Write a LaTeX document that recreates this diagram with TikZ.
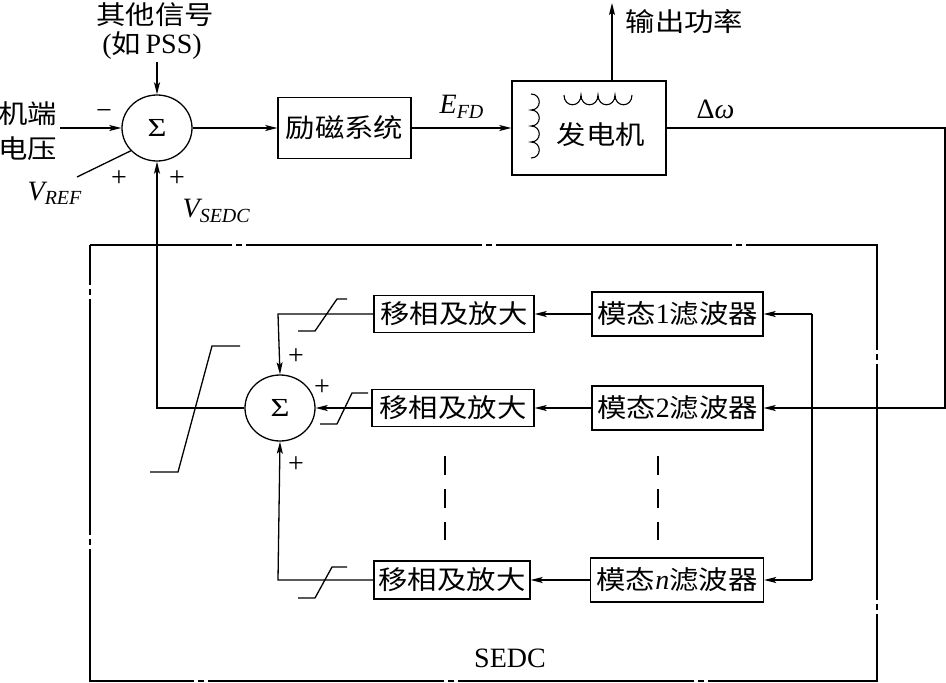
\documentclass[tikz,border=0pt]{standalone}
\usepackage{graphicx}
\usepackage{fontspec}
\setmainfont{Liberation Serif}
\newfontfamily\cjk[FakeStretch=1.13]{Noto Sans CJK SC}
\usetikzlibrary{arrows.meta,shapes.geometric}
\newcommand\zh{\cjk\fontsize{26}{30}\selectfont}
\newcommand\lat{\rmfamily\fontsize{28}{30}\selectfont}
\newcommand\sgnfont{\rmfamily\fontsize{28}{28}\selectfont}
\newcommand\sigfont{\rmfamily\fontsize{26}{26}\selectfont}
\newcommand\sigmark{\scalebox{1.25}[1]{Σ}}
\newcommand\subsc[2]{\raisebox{#1}{\fontsize{20}{20}\selectfont #2}}
\begin{document}
\begin{tikzpicture}[x=1pt,y=-1pt,
  line width=1.3pt,
  >={Stealth[length=12pt,width=6pt,inset=2.5pt]},
  blk/.style={draw,line width=1.3pt,inner sep=0pt,font=\zh},
  sumnode/.style={draw,ellipse,line width=1.3pt,minimum width=70pt,minimum height=66pt,inner sep=0pt,font=\sigfont},
  lbl/.style={inner sep=0pt,font=\lat},
  zlbl/.style={inner sep=0pt,font=\zh},
  sgn/.style={inner sep=0pt,font=\sgnfont},
  limiter/.style={line width=1.3pt},
  sedcbox/.style={line width=1.3pt,dash pattern=on 236pt off 4pt on 6pt off 4pt,dash phase=94pt},
  guide/.style={line width=1.3pt,dash pattern=on 19pt off 14pt},
]
\useasboundingbox (0,0) rectangle (946,683);

% ---------- nodes ----------
\node[sumnode] (s1) at (157,128) {\sigmark};
\node[blk,minimum width=133pt,minimum height=61pt] (exc) at (344.5,128) {励磁系统};
\node[blk,minimum width=154pt,minimum height=94pt] (gen) at (589,128) {};
\node[zlbl] (gent) at (601,135) {发电机};

\node[blk,minimum width=160pt,minimum height=37pt] (p1) at (454,314) {移相及放大};
\node[blk,minimum width=162pt,minimum height=37pt] (p2) at (453,408) {移相及放大};
\node[blk,minimum width=156pt,minimum height=38pt] (p3) at (452,580) {移相及放大};
\node[blk,minimum width=171pt,minimum height=44pt] (f1) at (677.5,314) {模态{\lat 1}滤波器};
\node[blk,minimum width=171pt,minimum height=44pt] (f2) at (677.5,408) {模态{\lat 2}滤波器};
\node[blk,minimum width=173pt,minimum height=44pt] (f3) at (677,580) {模态{\lat\itshape n}滤波器};
\node[sumnode] (s2) at (280,408) {\sigmark};

% coils inside generator
\draw[line width=1.1pt] (531,94)
  .. controls (542,94) and (542,110) .. (531,110)
  .. controls (542,110) and (542,126) .. (531,126)
  .. controls (542,126) and (542,142) .. (531,142)
  .. controls (542,142) and (542,158) .. (531,158);
\draw[line width=1.1pt] (564,95)
  .. controls (564,108) and (581,108) .. (581,95)
  .. controls (581,108) and (598,108) .. (598,95)
  .. controls (598,108) and (615,108) .. (615,95)
  .. controls (615,108) and (632,108) .. (632,95);

% labels top
\node[zlbl] (other) at (155,15) {其他信号};
\node[lbl] (pss) at (152,46) {({\zh 如}\,PSS)};
\node[zlbl] (vt1) at (28,114) {机端};
\node[zlbl] (vt2) at (28,149) {电压};
\node[sgn] (minus) at (104,114) {−};
\node[lbl,anchor=base west] (vref) at (27,200) {\itshape V\subsc{-4pt}{REF}};
\node[sgn] (p1s) at (119,179) {+};
\node[sgn] (p2s) at (177,179) {+};
\node[lbl,anchor=base west] (vsedc) at (182,217) {\itshape V\subsc{-5pt}{SEDC}};
\node[lbl,anchor=base west] (efd) at (439,113) {\itshape E\subsc{-5pt}{FD}};
\node[lbl,anchor=base west] (dw) at (696,118) {Δ\textit{ω}};
\node[zlbl,anchor=west] (poutt) at (625,22) {输出功率};

% coordinates
\coordinate (pssin) at (157,62);
\coordinate (vtin) at (60,128);
\coordinate (vrefin) at (77,177);
\coordinate (pout) at (612,3);
\coordinate (fb1) at (945,128);
\coordinate (fb2) at (945,408);
\coordinate (c1) at (278,314);
\coordinate (c3) at (278,580);
\coordinate (r1) at (812,314);
\coordinate (r3) at (812,580);
\coordinate (j1) at (157,408);

% top connectors
\draw[->] (pssin) -- (s1.north);
\draw[->] (vtin) -- (s1.west);
\draw (vrefin) -- (s1.221);
\draw[->] (s1.east) -- (exc.west);
\draw[->] (exc.east) -- (gen.west);
\draw[->] (gen.north -| pout) -- (pout);
\draw[->] (gen.east) -- (fb1) -- (fb2) -- (f2.east);

% lower connectors
\draw[->] (p1.west) -- (c1) -- (s2.north);
\draw[->] (p2.west) -- (s2.east);
\draw[->] (p3.west) -- (c3) -- (s2.south);
\draw[->] (f1.west) -- (p1.east);
\draw[->] (f2.west) -- (p2.east);
\draw[->] (f3.west) -- (p3.east);
\draw[->] (r1) -- (f1.east);
\draw[->] (r3) -- (f3.east);
\draw (r1) -- (r3);
\draw[->] (s2.west) -- (j1) -- (s1.south);

% plus signs
\node[sgn] (q1) at (296,357) {+};
\node[sgn] (q2) at (322,388) {+};
\node[sgn] (q3) at (296,465) {+};

% limiters
\draw[limiter] (298,331) -- (315,331) -- (337,299) -- (347,299);
\draw[limiter] (320,424) -- (337,424) -- (352,393) -- (368,393);
\draw[limiter] (298,598) -- (315,598) -- (332,567) -- (347,567);
\draw[limiter] (150,472) -- (178,472) -- (212,346) -- (240,346);

% dashed guides
\draw[guide] (445,456) -- (445,540);
\draw[guide] (658,456) -- (658,540);

% SEDC box
\draw[sedcbox] (90,245) -- (877,245) -- (877,681) -- (90,681) -- cycle;
\node[lbl] (sedc) at (510,658) {SEDC};
\end{tikzpicture}
\end{document}
